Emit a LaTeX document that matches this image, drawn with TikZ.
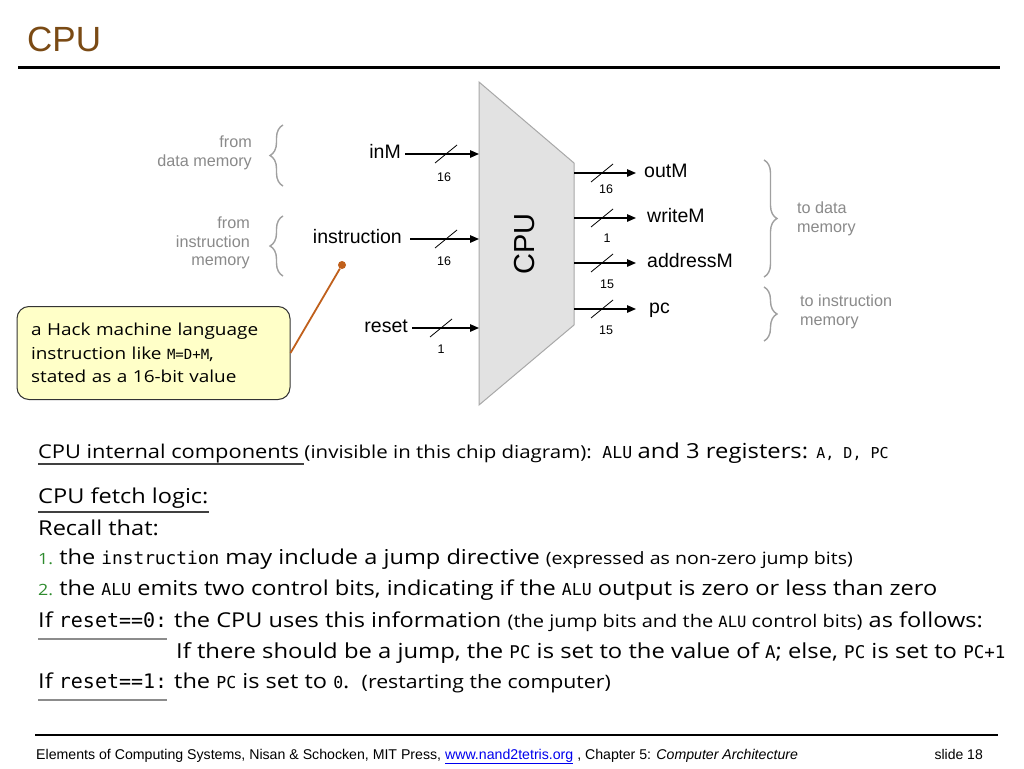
\documentclass[tikz,border=0pt]{standalone}
\usepackage{fontspec}
\setmainfont{Open Sans}
\newfontfamily\cmc[FakeStretch=1.15]{Open Sans}
\newfontfamily\mon{DejaVu Sans Mono}
\newfontfamily\arl{Liberation Sans}
\usetikzlibrary{decorations.pathreplacing,arrows.meta,calc}
\newcommand\setfs[1]{\fontsize{#1}{#1}\selectfont}
\definecolor{titlebrown}{HTML}{7A4A14}
\definecolor{lblgray}{HTML}{8A8A8A}
\definecolor{bracegray}{HTML}{A0A0A0}
\definecolor{cpufill}{HTML}{E2E2E2}
\definecolor{cpuedge}{HTML}{A8A8A8}
\definecolor{calloutfill}{HTML}{FFFFC8}
\definecolor{calloutline}{HTML}{C0601C}
\definecolor{numgreen}{HTML}{2E8B2E}
\definecolor{linkblue}{HTML}{0000EE}
\begin{document}
\begin{tikzpicture}[x=1pt,y=-1pt,
  sig/.style={line width=1.3pt,-{Triangle[length=9pt,width=7.5pt]}},
  busmark/.style={line width=0.8pt},
  pinlbl/.style={font=\arl\setfs{19.5},inner xsep=4pt,inner ysep=0pt,text height=13pt,text depth=4pt},
  outlbl/.style={font=\arl\setfs{19.5},inner xsep=8pt,inner ysep=0pt,text height=13pt,text depth=4pt,anchor=west},
  widthlbl/.style={font=\arl\setfs{12.5},inner sep=0pt},
  memlbl/.style={font=\arl\fontsize{16.2}{18.8}\selectfont,text=lblgray,inner sep=0pt},
  brc/.style={draw=bracegray,line width=1.4pt,decorate,decoration={brace,amplitude=13pt}},
  txt/.style={inner sep=0pt,anchor=base west,font=\cmc\setfs{20.5}},
  ul/.style={line width=1.2pt,black!75},
  ulg/.style={line width=2pt,black!45},
]
\useasboundingbox[fill=white] (0,0) rectangle (1024,768);

% title
\node[anchor=base west,inner sep=0pt,text=titlebrown,font=\arl\setfs{35}] (title) at (27,52) {CPU};
\draw[line width=3pt] (18,67.5) -- (1000,67.5);

% CPU chip
\coordinate (cpuTL) at (479,82);
\coordinate (cpuTR) at (574,163);
\coordinate (cpuBR) at (574,325);
\coordinate (cpuBL) at (479,405);
\draw[fill=cpufill,draw=cpuedge,line width=1pt] (cpuTL) -- (cpuTR) -- (cpuBR) -- (cpuBL) -- cycle;
\node[rotate=90,font=\arl\setfs{29},inner sep=0pt] (cpulabel) at (525,244) {CPU};

% inputs
\node[pinlbl,anchor=east] (inM) at (405,154) {inM};
\coordinate (inMend) at (479,154);
\draw[sig] (inM) -- (inMend);
\draw[busmark] (435,163) -- (457,145);
\node[widthlbl] (w1) at (444,177) {16};

\node[pinlbl,anchor=east,inner xsep=8pt] (instr) at (410,239) {instruction};
\coordinate (instrend) at (479,239);
\draw[sig] (instr) -- (instrend);
\draw[busmark] (435,248) -- (457,230);
\node[widthlbl] (w2) at (444,261) {16};

\node[pinlbl,anchor=east] (reset) at (412,328) {reset};
\coordinate (resetend) at (479,328);
\draw[sig] (reset) -- (resetend);
\draw[busmark] (430,337) -- (452,319);
\node[widthlbl] (w3) at (441,349) {1};

% outputs
\coordinate (o1) at (574,173);
\coordinate (o2) at (574,218);
\coordinate (o3) at (574,263);
\coordinate (o4) at (574,309);
\node[outlbl] (outM) at (636,173) {outM};
\node[outlbl,inner xsep=11pt] (writeM) at (636,218) {writeM};
\node[outlbl,inner xsep=11pt] (addressM) at (636,263) {addressM};
\node[outlbl,inner xsep=13pt] (pc) at (636,309) {pc};
\draw[sig] (o1) -- (o1 -| outM.west);
\draw[sig] (o2) -- (o2 -| writeM.west);
\draw[sig] (o3) -- (o3 -| addressM.west);
\draw[sig] (o4) -- (o4 -| pc.west);
\draw[busmark] (591,182) -- (613,164);
\draw[busmark] (591,227) -- (613,209);
\draw[busmark] (591,272) -- (613,254);
\draw[busmark] (591,318) -- (613,300);
\node[widthlbl] (w4) at (606,189) {16};
\node[widthlbl] (w5) at (607,238) {1};
\node[widthlbl] (w6) at (607,284) {15};
\node[widthlbl] (w7) at (606,330) {15};

% memory labels and braces
\node[memlbl,align=right,anchor=east] (fromdata) at (252,153) {from\\data memory};
\node[memlbl,align=right,anchor=east] (fromins) at (250,243) {from\\instruction\\memory};
\node[memlbl,align=left,anchor=west] (todata) at (797,219) {to data\\memory};
\node[memlbl,align=left,anchor=west] (toins) at (800,312) {to instruction\\memory};
\draw[brc] (283,186) -- (283,125);
\draw[brc] (283,276) -- (283,216);
\draw[brc] (764,160) -- (764,277);
\draw[brc] (764,287) -- (764,341);

% callout
\node[draw=black!80,line width=1pt,fill=calloutfill,rounded corners=12pt,minimum width=273pt,minimum height=93pt,text width=245pt,align=left,inner xsep=14pt,font=\cmc\fontsize{16.5}{23.5}\selectfont] (callout) at (153.5,353) {a Hack machine language\\instruction like {\mon\setfs{14}M=D+M},\\stated as a 16-bit value};
\node[circle,fill=calloutline,inner sep=0pt,minimum size=8pt] (dot) at (342,265) {};
\draw[calloutline,line width=1.8pt] (callout.east) -- (dot);

% text lines
\node[txt,font=\cmc\setfs{19}] (l1a) at (38,458) {CPU internal components\kern5pt};
\node[txt] (l1b) at (l1a.base east) {\setfs{17.8}(invisible in this chip diagram):\ \ {\mon\setfs{16.5}ALU}\ \setfs{20.7}and 3 registers: {\mon\setfs{15}A, D, PC}};
\draw[ul] ($(l1a.base west)+(0,6)$) -- ($(l1a.base east)+(0,6)$);

\node[txt] (l2) at (38,503) {CPU fetch logic:};
\draw[ul] ($(l2.base west)+(0,9)$) -- ($(l2.base east)+(0,9)$);
\node[txt] (l3) at (38,535) {Recall that:};
\node[txt] (l4) at (38,564) {{\color{numgreen}\setfs{15.5}1.}\ the {\mon\setfs{17.8}instruction} may include a jump directive {\setfs{17}(expressed as non-zero jump bits)}};
\node[txt] (l5) at (38,595) {{\color{numgreen}\setfs{15.5}2.}\ the {\mon\setfs{16.5}ALU} emits two control bits, indicating if the {\mon\setfs{16.5}ALU} output is zero or less than zero};
\node[txt] (l6a) at (38,627) {If {\mon\setfs{20}reset==0:}};
\draw[ulg] ($(l6a.base west)+(0,12)$) -- ($(l6a.base east)+(0,12)$);
\node[txt] (l6b) at (174,627) {the CPU uses this information {\setfs{17.4}(the jump bits and the {\mon\setfs{15.5}ALU} control bits)} as follows:};
\node[txt,font=\cmc\setfs{20.7}] (l7) at (176,658) {If there should be a jump, the {\mon\setfs{17.5}PC} is set to the value of {\mon\setfs{17.5}A}; else, {\mon\setfs{17.5}PC} is set to {\mon\setfs{17.5}PC+1}};
\node[txt] (l8a) at (38,688) {If {\mon\setfs{20}reset==1:}};
\draw[ulg] ($(l8a.base west)+(0,12)$) -- ($(l8a.base east)+(0,12)$);
\node[txt] (l8b) at (174,688) {the {\mon\setfs{16.5}PC} is set to {\mon\setfs{16.5}0}.\ \ {\setfs{18.5}(restarting the computer)}};

% footer
\draw[line width=1.5pt] (35,735) -- (998,735);
\node[anchor=base west,inner sep=0pt,font=\arl\setfs{14.15}] (footer) at (36,759) {Elements of Computing Systems, Nisan \& Schocken, MIT Press, {\color{linkblue}\underline{www.nand2tetris.org}} , Chapter 5: \textit{Computer Architecture}};
\node[anchor=base east,inner sep=0pt,font=\arl\setfs{14}] (slide) at (983,759) {slide 18};
\end{tikzpicture}
\end{document}
